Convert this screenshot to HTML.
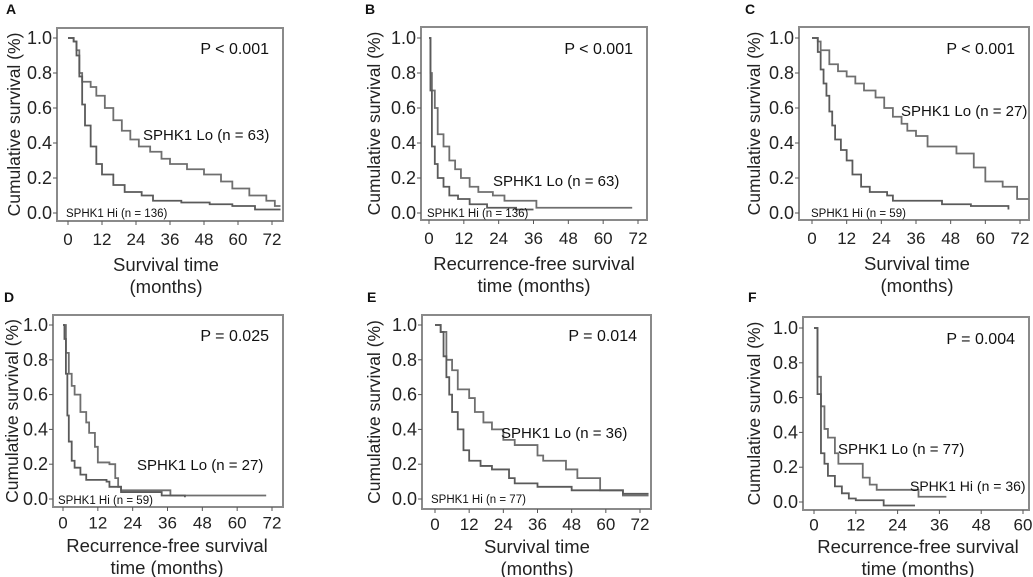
<!DOCTYPE html>
<html><head><meta charset="utf-8"><style>
body{margin:0;background:#fff;}
svg{display:block;font-family:"Liberation Sans",sans-serif;}
</style></head><body>
<svg id="fig" width="1033" height="577" viewBox="0 0 1033 577" xmlns="http://www.w3.org/2000/svg"></svg>
<script>
const yTicks=[0,0.2,0.4,0.6,0.8,1.0];
const xTicks72=[0,12,24,36,48,60,72];
const xTicks60=[0,12,24,36,48,60];
const pLabels=["P < 0.001","P < 0.001","P < 0.001","P = 0.025","P = 0.014","P = 0.004"];
const loLabels=["SPHK1 Lo (n = 63)","SPHK1 Lo (n = 63)","SPHK1 Lo (n = 27)","SPHK1 Lo (n = 27)","SPHK1 Lo (n = 36)","SPHK1 Lo (n = 77)"];
const hiLabels=["SPHK1 Hi (n = 136)","SPHK1 Hi (n = 136)","SPHK1 Hi (n = 59)","SPHK1 Hi (n = 59)","SPHK1 Hi (n = 77)","SPHK1 Hi (n = 36)"];
const aLoT=[0,2,3,4,5,8,10,13,16,19,22,25,29,33,36,42,48,54,58,64,70,73,75];
const aLoS=[1,0.98,0.93,0.8,0.75,0.72,0.67,0.6,0.53,0.47,0.42,0.38,0.35,0.31,0.28,0.25,0.22,0.18,0.14,0.1,0.07,0.04,0.04];
const aHiT=[0,2,3,4,5,6,8,10,12,16,20,26,30,40,50,58,66,75];
const aHiS=[1,0.98,0.9,0.78,0.62,0.5,0.38,0.28,0.22,0.16,0.12,0.1,0.07,0.06,0.05,0.04,0.02,0.02];
const bLoT=[0,0.5,1,2,3,5,7,9,11,14,17,22,26,36,37,70];
const bLoS=[1,0.8,0.7,0.6,0.45,0.38,0.3,0.25,0.2,0.15,0.12,0.1,0.07,0.07,0.03,0.03];
const bHiT=[0,0.5,1,2,3,5,7,10,14,20,30,36];
const bHiS=[1,0.7,0.38,0.28,0.2,0.15,0.1,0.08,0.05,0.03,0.02,0.02];
const cLoT=[0,2,3,6,9,12,15,18,22,25,28,31,33,36,40,47,50,56,60,66,71,75];
const cLoS=[1,0.98,0.93,0.85,0.81,0.78,0.74,0.7,0.66,0.6,0.55,0.51,0.47,0.44,0.38,0.38,0.34,0.26,0.18,0.15,0.08,0.08];
const cHiT=[0,2,3,4,5,6,7,8,10,12,14,17,20,26,28,45,55,68];
const cHiS=[1,0.92,0.82,0.74,0.67,0.58,0.5,0.42,0.36,0.3,0.22,0.15,0.12,0.1,0.07,0.05,0.04,0.02];
const dLoT=[0,1,2,3,4,6,8,9,11,12,16,18,19,20,36,37,70];
const dLoS=[1,0.84,0.72,0.65,0.6,0.5,0.44,0.38,0.3,0.21,0.2,0.12,0.07,0.05,0.05,0.02,0.02];
const dHiT=[0,0.5,1,1.5,2,3,4,6,8,15,16,20,34,42];
const dHiS=[1,0.92,0.72,0.48,0.33,0.22,0.18,0.14,0.11,0.1,0.07,0.04,0.02,0.01];
const eLoT=[0,2,4,6,8,12,14,17,20,24,28,36,38,46,50,58,66,75];
const eLoS=[1,0.96,0.8,0.74,0.63,0.58,0.5,0.44,0.4,0.34,0.31,0.25,0.22,0.17,0.12,0.05,0.02,0.02];
const eHiT=[0,2,3,4,5,6,8,10,12,16,20,26,28,36,48,62,66,75];
const eHiS=[1,0.96,0.82,0.7,0.6,0.5,0.4,0.28,0.22,0.19,0.17,0.12,0.09,0.07,0.05,0.05,0.03,0.03];
const fLoT=[0,1,2,3,4,6,7,13,14,16,18,28,30,38];
const fLoS=[1,0.72,0.55,0.42,0.37,0.28,0.22,0.22,0.14,0.1,0.07,0.07,0.03,0.03];
const fHiT=[0,1,2,3,4,6,8,10,12,18,20,29];
const fHiS=[1,0.62,0.28,0.22,0.15,0.09,0.05,0.02,0.01,0.01,-0.02,-0.02];

const NS="http://www.w3.org/2000/svg";
const svg=document.getElementById('fig');
function el(tag,attrs,parent,text){const e=document.createElementNS(NS,tag);for(const k in attrs)e.setAttribute(k,attrs[k]);if(text!==undefined)e.textContent=text;(parent||svg).appendChild(e);return e;}

const panels=[
 {id:'a',letter:'A',lx:6,ly:14,box:[57,28,283,221],x0:68,x1:272,xmax:72,y1:38,y0:213,ticks:xTicks72,lo:[aLoT,aLoS],hi:[aHiT,aHiS],ylx:14,t1:"Survival time",t2:"(months)",tcx:166,tOff:0,loPos:[143,140],hiPos:[66,217],hiSize:11.5,pY:48},
 {id:'b',letter:'B',lx:365,ly:14,box:[421,27,647,220],x0:429,x1:638,xmax:72,y1:38,y0:213,ticks:xTicks72,lo:[bLoT,bLoS],hi:[bHiT,bHiS],ylx:374,t1:"Recurrence-free survival",t2:"time (months)",tcx:534,tOff:0,loPos:[493,186],hiPos:[427,217],hiSize:11.5,pY:48},
 {id:'c',letter:'C',lx:745,ly:14,box:[799,27,1029,220],x0:812,x1:1020,xmax:72,y1:38,y0:213,ticks:xTicks72,lo:[cLoT,cLoS],hi:[cHiT,cHiS],ylx:754,t1:"Survival time",t2:"(months)",tcx:917,tOff:0,loPos:[901,116],hiPos:[811,217],hiSize:11.5,pY:48},
 {id:'d',letter:'D',lx:4,ly:302,box:[53,315,283,507],x0:63,x1:272,xmax:72,y1:325,y0:499,ticks:xTicks72,lo:[dLoT,dLoS],hi:[dHiT,dHiS],ylx:12,t1:"Recurrence-free survival",t2:"time (months)",tcx:167,tOff:-5,loPos:[137,470],hiPos:[58,504],hiSize:11.5,pY:335},
 {id:'e',letter:'E',lx:367,ly:302,box:[422,315,651,509],x0:435,x1:640,xmax:72,y1:325,y0:499,ticks:xTicks72,lo:[eLoT,eLoS],hi:[eHiT,eHiS],ylx:374,t1:"Survival time",t2:"(months)",tcx:537,tOff:-6,loPos:[501,438],hiPos:[431,503],hiSize:11.5,pY:335},
 {id:'f',letter:'F',lx:748,ly:302,box:[803,317,1029,510],x0:814,x1:1023,xmax:60,y1:328,y0:502,ticks:xTicks60,lo:[fLoT,fLoS],hi:[fHiT,fHiS],ylx:754,t1:"Recurrence-free survival",t2:"time (months)",tcx:918,tOff:-7,loPos:[838,454],hiPos:[910,491],hiSize:14,pY:338}
];

panels.forEach((p,i)=>{
 const g=el('g',{});
 
 
 const xs=v=>p.x0+(p.x1-p.x0)*v/p.xmax;
 const ys=v=>p.y0+(p.y1-p.y0)*v;
 const [L,T,R,B]=p.box;
 const lt=el('text',{x:p.lx,y:p.ly,'font-size':14,'font-weight':'bold',fill:'#111'},g,p.letter);
 
 
 const bx=el('rect',{x:L,y:T,width:R-L,height:B-T,fill:'none',stroke:'#8a8a8a','stroke-width':2},g);
 
 
 yTicks.forEach(v=>{
  el('line',{x1:L-4,x2:L,y1:ys(v),y2:ys(v),stroke:'#555','stroke-width':1},g);
  const t=el('text',{x:L-5,y:ys(v)+6,'font-size':18,'text-anchor':'end',fill:'#222'},g,v.toFixed(1));
  
  
 });
 p.ticks.forEach(v=>{
  el('line',{x1:xs(v),x2:xs(v),y1:B,y2:B+4,stroke:'#555','stroke-width':1},g);
  const t=el('text',{x:xs(v),y:B+24+p.tOff/2,'font-size':17,'text-anchor':'middle',fill:'#222'},g,String(v));
  
  
 });
 const cy=(T+B)/2;
 const yl=el('text',{x:p.ylx,y:cy,'font-size':17.5,'text-anchor':'middle',fill:'#222',transform:`rotate(-90 ${p.ylx} ${cy}) translate(0 6)`},g,"Cumulative survival (%)");
 
 
 const x1t=el('text',{x:p.tcx,y:B+50+p.tOff,'font-size':18.5,'text-anchor':'middle',fill:'#222'},g,p.t1);
 
 
 const x2t=el('text',{x:p.tcx,y:B+72+p.tOff,'font-size':18.5,'text-anchor':'middle',fill:'#222'},g,p.t2);
 
 
 [['lo',p.lo,'#6f6f6f'],['hi',p.hi,'#5a5a5a']].forEach(([k,[ts,ss],c])=>{
  let d=`M${xs(ts[0])},${ys(ss[0])}`;
  for(let j=1;j<ts.length;j++){d+=`H${xs(ts[j])}V${ys(ss[j])}`;}
  const path=el('path',{d,fill:'none',stroke:c,'stroke-width':1.8},g);
  
  
 });
 const pt=el('text',{x:R-14,y:p.pY+6,'font-size':16,'text-anchor':'end',fill:'#111'},g,pLabels[i]);
 
 
 const lo=el('text',{x:p.loPos[0],y:p.loPos[1],'font-size':15,fill:'#111'},g,loLabels[i]);
 
 
 const hi=el('text',{x:p.hiPos[0],y:p.hiPos[1],'font-size':p.hiSize,fill:'#111'},g,hiLabels[i]);
 
 
});
</script>
</body></html>
